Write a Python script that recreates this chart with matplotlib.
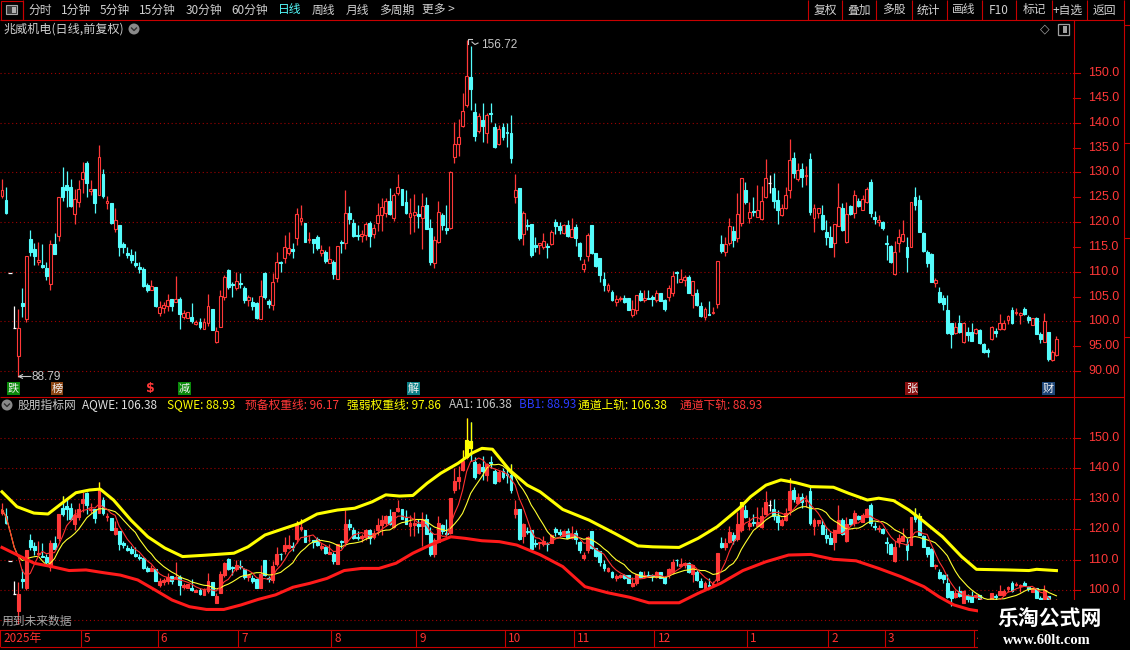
import numpy as np
import pandas as pd
import matplotlib
matplotlib.use("Agg")
import matplotlib.pyplot as plt
from matplotlib.patches import Rectangle, Circle

plt.rcParams['font.family'] = ['Noto Sans CJK SC', 'DejaVu Sans']

# ---------------- data ----------------
opens = [125.2,124.4,109.7,98.6,93.1,103.7,100.5,116.6,114.6,111.9,
 111.3,110.8,107.6,115.6,117.2,127.0,127.5,127.0,121.7,124.1,
 128.6,131.9,126.3,126.6,125.4,129.7,123.9,123.8,118.5,119.3,
 115.6,113.8,113.4,111.7,110.9,110.6,107.4,106.3,107.0,101.7,
 102.7,103.1,104.6,103.8,104.4,100.9,100.6,100.8,99.5,99.9,
 98.4,99.7,102.5,95.8,98.9,105.0,110.3,107.6,106.8,107.8,
 106.8,104.2,103.9,103.6,100.5,109.8,104.0,103.3,108.7,112.0,
 112.8,113.7,114.6,116.7,120.2,119.9,116.3,116.6,116.9,113.8,
 114.0,111.7,111.9,108.5,116.0,115.7,121.8,119.9,117.4,117.1,
 117.4,119.9,117.5,119.9,121.4,121.9,124.2,120.8,125.9,126.6,
 124.1,121.0,121.4,121.6,120.9,123.4,118.7,111.8,115.9,121.4,
 118.7,118.7,133.0,135.8,139.4,143.6,149.1,142.2,138.4,140.5,
 137.9,142.0,139.1,135.7,139.1,138.2,137.9,125.0,126.8,117.6,
 119.4,119.6,115.4,115.4,115.0,115.2,115.6,120.0,119.2,117.7,
 119.4,117.0,118.9,115.8,110.6,113.2,119.4,113.7,112.7,108.6,
 106.4,105.9,103.8,104.4,104.8,104.8,101.2,102.3,105.8,104.2,
 104.8,104.9,104.2,105.8,104.3,105.0,105.8,110.0,108.0,108.3,
 109.0,105.4,105.8,103.0,100.8,101.5,101.6,103.4,115.6,114.0,
 115.7,118.1,116.7,119.9,126.4,120.9,122.3,121.1,120.7,125.0,
 127.8,126.8,124.4,121.4,122.9,126.4,132.8,128.6,130.6,129.3,
 132.6,120.9,121.9,121.4,118.0,117.0,115.8,119.2,122.9,116.0,
 123.2,121.9,124.3,122.5,124.1,128.1,121.1,120.1,120.0,115.7,
 115.2,109.5,115.8,116.2,115.0,114.9,125.1,124.4,117.8,114.0,
 113.5,107.8,106.0,104.8,102.2,99.7,97.7,99.7,95.8,97.9,
 97.9,97.6,98.3,95.4,94.2,96.4,98.1,98.4,98.4,100.3,
 102.3,101.6,101.3,102.4,100.9,99.3,100.6,97.5,95.9,97.9,
 92.3,93.2]
highs = [128.6,127.0,109.7,103.1,102.5,106.8,113.2,118.4,115.7,116.0,
 115.6,111.9,116.4,117.7,125.0,131.0,130.2,128.6,126.7,128.5,
 132.1,132.3,128.5,126.6,135.5,130.6,125.2,123.8,122.8,119.3,
 116.0,114.9,114.6,114.2,111.9,111.0,107.8,108.3,107.0,104.0,
 103.9,105.5,104.6,109.1,105.0,102.3,101.9,103.6,100.2,100.6,
 100.6,105.5,102.5,98.9,106.3,109.3,110.5,108.0,110.0,109.8,
 107.1,105.3,105.0,103.8,108.3,110.0,104.6,109.7,114.0,112.2,
 117.4,118.0,115.7,122.8,123.4,119.9,118.0,116.6,117.4,115.4,
 114.4,115.2,112.4,115.2,116.4,126.4,123.2,120.7,119.4,118.4,
 120.1,120.2,119.7,123.8,124.8,124.8,126.8,125.8,129.7,126.6,
 126.4,124.8,125.7,123.4,125.8,125.1,120.7,117.2,124.3,121.8,
 123.4,130.3,140.2,140.7,145.9,156.7,155.4,143.9,141.9,144.0,
 141.9,144.0,139.9,139.5,140.0,139.9,141.6,129.7,126.8,122.2,
 120.7,119.6,116.9,115.7,117.7,115.7,118.3,120.7,120.1,119.7,
 120.4,120.9,119.7,116.0,112.5,117.7,119.4,113.7,112.7,109.9,
 107.7,106.4,105.3,105.2,105.3,104.8,104.2,105.4,106.4,106.4,
 106.3,105.3,106.3,105.8,104.6,107.3,110.2,110.2,110.5,109.3,
 109.3,108.1,106.6,103.8,102.9,104.0,102.8,112.1,117.4,117.0,
 120.9,119.1,125.8,128.8,128.1,124.1,125.0,127.4,127.2,132.6,
 129.5,129.9,126.4,123.6,127.1,136.8,134.0,131.8,131.8,131.3,
 133.8,123.6,122.9,123.4,120.5,119.1,119.6,127.8,123.8,124.1,
 123.4,126.4,124.8,125.4,127.1,128.6,122.3,121.4,120.3,117.4,
 115.4,116.2,118.5,120.5,117.0,124.1,127.0,125.4,118.0,114.3,
 113.7,108.7,107.0,105.3,105.3,99.7,99.9,101.3,99.9,98.8,
 99.6,98.6,98.4,95.6,94.6,99.1,98.6,101.5,100.3,101.3,
 102.8,102.6,101.9,102.9,101.3,100.6,100.8,97.9,101.7,97.9,
 94.2,97.0]
lows = [124.8,121.6,109.7,98.6,88.8,100.8,99.9,113.2,111.4,111.4,
 110.8,108.3,106.4,113.6,116.2,124.3,123.1,123.0,119.7,123.0,
 125.8,125.1,125.4,121.9,125.4,124.8,122.7,119.6,118.0,113.2,
 113.8,112.7,111.8,110.9,109.8,106.9,106.0,106.3,102.8,101.1,
 101.7,102.1,102.1,103.8,98.5,100.4,100.6,99.6,99.3,98.4,
 98.4,99.1,98.3,95.6,98.9,104.3,106.6,105.0,106.4,106.8,
 103.6,103.1,102.3,100.5,100.5,104.6,102.6,102.3,108.0,110.0,
 111.7,113.4,112.7,115.4,119.4,115.9,115.7,113.8,114.4,113.2,
 111.8,111.7,108.5,108.5,113.8,114.6,119.6,116.9,116.4,115.9,
 116.4,115.0,116.7,118.1,118.1,121.1,121.4,120.3,125.5,123.4,
 121.6,117.6,117.9,118.7,114.5,118.5,111.3,110.7,115.7,118.4,
 117.6,118.5,131.9,133.2,139.2,143.1,142.6,136.4,138.0,136.2,
 136.0,140.2,134.8,135.5,136.6,135.2,131.9,123.8,116.4,115.4,
 118.4,113.0,114.0,113.5,114.5,112.7,115.4,117.6,117.6,117.6,
 117.0,116.9,115.2,112.3,109.9,112.2,113.6,110.9,108.0,106.2,
 106.0,104.0,103.0,104.0,103.6,102.3,100.9,101.5,104.0,103.8,
 104.6,103.0,103.9,104.0,102.1,104.0,105.1,107.8,108.0,107.1,
 105.7,102.6,103.1,100.9,100.3,101.2,101.5,102.6,113.7,113.2,
 115.4,115.0,116.0,119.2,123.6,119.9,121.2,121.0,120.5,124.8,
 125.9,122.9,119.6,121.2,122.7,124.8,128.8,128.3,127.1,127.4,
 121.4,118.0,120.9,118.4,115.4,115.0,113.0,119.1,118.1,115.7,
 121.4,120.9,123.0,122.4,123.9,121.1,119.6,119.1,118.3,112.3,
 111.8,109.3,114.0,116.0,110.0,114.9,122.4,118.0,114.0,110.9,
 108.0,107.0,103.6,102.3,97.4,94.6,97.4,97.7,95.6,96.1,
 96.1,97.4,95.4,93.7,92.9,96.2,96.8,98.3,98.3,99.5,
 99.4,101.3,99.5,101.3,99.6,99.3,97.5,95.6,95.9,92.1,
 92.1,93.0]
closes = [126.4,121.9,109.7,98.6,98.6,103.0,113.2,114.0,113.2,112.3,
 110.9,109.2,115.5,113.6,125.0,125.1,126.5,123.2,124.6,126.6,
 130.0,127.8,126.6,123.8,133.0,125.2,124.3,119.9,120.5,115.0,
 114.9,113.3,112.3,111.3,110.6,107.2,106.3,107.2,103.1,102.8,
 103.3,104.2,103.1,104.4,101.5,101.7,101.9,100.1,99.9,98.8,
 99.9,103.1,98.3,98.1,105.1,109.0,107.0,107.3,108.1,107.5,
 104.3,105.0,103.0,100.7,105.1,105.0,103.5,107.9,111.9,111.8,
 114.9,114.7,114.2,121.6,120.8,115.9,116.5,115.7,114.7,114.4,
 112.2,112.5,109.5,115.2,115.7,121.8,120.7,117.2,117.1,117.6,
 119.7,117.1,118.7,121.4,123.1,124.2,121.6,125.5,127.0,123.4,
 121.8,121.9,122.1,121.2,123.2,118.5,112.0,116.4,122.1,119.4,
 118.4,130.1,135.8,137.1,142.4,149.4,146.7,137.3,141.3,139.3,
 141.5,141.8,135.2,138.7,137.2,137.9,132.8,126.5,116.7,121.8,
 119.1,113.4,115.0,115.7,116.2,115.0,118.0,119.1,118.3,119.4,
 117.2,118.5,116.7,113.1,111.5,117.4,113.7,111.1,109.3,107.3,
 107.3,104.3,104.6,104.8,103.9,102.3,102.4,105.4,104.3,104.8,
 104.6,104.6,105.8,104.0,102.4,106.8,109.1,109.8,108.5,109.0,
 105.8,108.1,103.3,101.1,102.4,101.2,101.9,112.1,114.2,115.6,
 119.1,116.4,121.7,128.8,124.1,122.0,122.1,122.5,124.3,128.8,
 127.8,124.3,122.4,122.9,125.4,132.5,129.8,130.5,129.1,129.5,
 122.1,122.9,122.9,118.5,117.0,115.0,119.6,123.1,118.3,121.6,
 121.7,125.4,123.2,124.6,126.6,121.9,120.7,120.5,118.7,115.5,
 112.0,114.0,117.0,117.6,113.0,124.1,123.4,118.0,114.2,111.8,
 108.0,108.3,103.8,103.5,97.6,97.4,98.9,97.9,99.6,97.2,
 96.1,98.4,95.7,93.9,93.9,98.9,97.6,99.6,99.7,101.1,
 99.7,101.9,101.7,101.5,100.3,100.6,97.5,96.4,100.1,92.5,
 93.9,96.4]

# channel lines of the indicator (read at points along the line, x = bar index)
upper_idx = [0,3.7,7.9,11.4,14.9,18.3,21.7,24.3,27.6,31.9,36.1,40.3,44.7,49.8,57.4,
             60.9,65.1,69.3,73.8,78,83,87.3,91.6,95,98.4,101.7,105.2,108.6,112.9,116.3,
             118.8,121.4,125.6,130,133.2,138.8,145.3,151.7,157.4,161.1,167.6,172.3,177,
             182.5,185.3,189.1,192.8,196.5,200.2,205.8,209.6,214.2,217,220.7,224.5,228.2,
             232.8,237.5,241.2,248.7,254.2,256.1,261]
upper_val = [132.3,127.4,125.3,125.0,128.6,132.0,132.9,133.2,129.6,123.0,117.5,113.8,111.0,
             111.4,112.1,114.2,118.1,120.0,122.0,125.0,126.3,126.9,129.0,131.3,130.9,131.1,
             135.1,138.4,141.7,145.0,146.6,146.3,139.5,134.5,132.3,126.5,123.0,118.6,114.5,
             114.2,114.0,117.0,120.8,126.9,130.7,134.5,136.2,135.3,134.0,133.8,131.8,129.6,
             130.2,129.4,126.3,122.5,117.5,111.0,106.8,106.6,106.4,106.8,106.38]
lower_idx = [0,4.6,8,12.3,16.6,20.8,25.1,29.3,33.6,37.9,42.1,46.4,50.6,54.9,59.2,63.4,67.7,
             72,76.2,80.4,84.7,89,93.3,97.5,101.7,106,111.1,114.6,118.8,123.1,127.4,133.2,
             138.8,144.3,149.9,155.4,160.1,167.6,172.3,177.9,183.4,189.1,194.7,200.2,205.8,
             211.4,217,222.5,228.2,231.9,235.6,239.4,261]
lower_val = [114.0,111.0,108.8,107.7,106.4,106.6,105.7,104.9,103.3,100.0,96.7,94.5,93.6,93.6,
             95.1,96.9,98.4,100.9,102.2,103.8,106.4,107.1,107.1,108.8,112.1,114.8,117.5,117.0,
             116.2,115.9,114.8,111.6,107.7,101.1,99.1,97.6,95.8,95.8,98.9,102.2,106.4,109.3,
             111.5,111.7,110.1,109.6,107.1,104.4,101.1,97.8,95.1,93.6,88.93]

month_idx = [0, 20, 39, 59, 82, 103, 125, 142, 162, 185, 205, 219, 241]
month_lab = ['2025年', '5', '6', '7', '8', '9', '10', '11', '12', '1', '2', '3', '4']

main_ticks = [150, 145, 140, 135, 130, 125, 120, 115, 110, 105, 100, 95, 90]
sub_ticks = [150, 140, 130, 120, 110, 100]
grid_levels = [150, 140, 130, 120, 110, 100, 90]

toolbar_left = [(28.6, '分时'), (61.4, '1分钟'), (100, '5分钟'), (139, '15分钟'), (186, '30分钟'),
                (231, '60分钟'), (278, '日线'), (312, '周线'), (346, '月线'), (379, '多周期'), (422.5, '更多 >')]
toolbar_right = [(825, '复权'), (859, '叠加'), (894, '多股'), (928, '统计'), (964, '画线'),
                 (999, 'F10'), (1034, '标记'), (1068, '+自选'), (1104, '返回')]
toolbar_seps = [808, 842, 876, 912, 946.5, 982, 1016, 1051.6, 1086.5]

RED = '#FF3838'; CYAN = '#54FCFC'; YEL = '#FFFF00'; LINE = '#C80000'; GRID = '#A00000'
GRAY = '#C8C8C8'

legend_segs = [(17.4, '股朋指标网', GRAY), (82, 'AQWE: 106.38', '#E0E0E0'), (166.7, 'SQWE: 88.93', YEL),
               (245, '预备权重线: 96.17', RED), (347, '强弱权重线: 97.86', YEL),
               (449, 'AA1: 106.38', '#C8C8C8'), (519, 'BB1: 88.93', '#2B3BFF'),
               (578, '通道上轨: 106.38', YEL), (680, '通道下轨: 88.93', RED)]

# ---------------- figure ----------------
W, H = 1130, 650
fig = plt.figure(figsize=(W / 100, H / 100), dpi=100, facecolor='black')

def rect(x0, y0, x1, y1):
    return [x0 / W, 1 - y1 / H, (x1 - x0) / W, (y1 - y0) / H]

O = np.array(opens); Hh = np.array(highs); L = np.array(lows); C = np.array(closes)
n = len(C)
x = np.arange(n)
XL = (-2 / 4.04, (1073 - 2) / 4.04)

ax1 = fig.add_axes(rect(0, 20, 1073, 397))
ax2 = fig.add_axes(rect(0, 397, 1073, 630))
for ax in (ax1, ax2):
    ax.set_facecolor('black')
    ax.set_xlim(*XL)
    for s in ax.spines.values():
        s.set_visible(False)
    ax.set_xticks([]); ax.set_yticks([])
    for v in grid_levels:
        ax.axhline(v, color=GRID, lw=0.8, ls=(0, (1, 2.5)), zorder=1)
ax1.set_ylim(84.77, 160.67)
ax2.set_ylim(86.84, 163.49)


def candles(ax, hollow):
    up = C > O; dn = C < O; fl = C == O
    cols = np.where(up, RED, np.where(dn, CYAN, '#FFFFFF'))
    ax.vlines(x, L, Hh, colors=cols, linewidth=0.9, zorder=2)
    ax.bar(x[up], (C - O)[up], bottom=O[up], width=0.72,
           facecolor='black' if hollow else RED, edgecolor=RED, linewidth=0.8, zorder=3)
    ax.bar(x[dn], (C - O)[dn], bottom=O[dn], width=0.72,
           facecolor=CYAN, edgecolor=CYAN, linewidth=0.8, zorder=3)
    ax.hlines(C[fl], x[fl] - 0.4, x[fl] + 0.4, colors='#FFFFFF', linewidth=0.9, zorder=3)


candles(ax1, True)
candles(ax2, False)

# yellow highlight of the part above the upper channel line
bu = np.interp(x, upper_idx, upper_val)
m = Hh > bu
ax2.vlines(x[m], np.maximum(L, bu)[m], Hh[m], colors=YEL, linewidth=0.9, zorder=3.5)
top = np.maximum(O, C); bot = np.minimum(O, C)
mb = top > bu
bb = np.maximum(bot, bu)
ax2.bar(x[mb], (top - bb)[mb], bottom=bb[mb], width=0.72, facecolor=YEL, edgecolor=YEL,
        linewidth=0.8, zorder=3.6)

s = pd.Series(C)
ma5 = s.rolling(5, min_periods=1).mean()
ma10 = s.rolling(10, min_periods=1).mean()
ax2.plot(x, ma10, color='#FFFF30', lw=0.8, zorder=4)
ax2.plot(x, ma5, color='#FF3030', lw=0.8, zorder=4)
ax2.plot(upper_idx, upper_val, color=YEL, lw=2.2, zorder=5, solid_joinstyle='round')
ax2.plot(lower_idx, lower_val, color='#FF1A1A', lw=2.2, zorder=5, solid_joinstyle='round')

# right axis labels
def yaxis_labels(ax, ticks):
    tr = ax.get_yaxis_transform()
    for v in ticks:
        lab = f"{v:.1f}" if v >= 100 else f"{v:.2f}"
        ax.text(1088 / 1073, v, lab, transform=tr, color=RED, fontsize=9,
                family='Liberation Sans', va='center', ha='left', clip_on=False)
        ax.plot([1.0, 1080 / 1073], [v, v], transform=tr, color=LINE, lw=0.8, clip_on=False)

yaxis_labels(ax1, main_ticks)
yaxis_labels(ax2, sub_ticks)

# date strip
trx = ax2.get_xaxis_transform()
for i, lab in zip(month_idx, month_lab):
    ax2.plot([i - 0.5, i - 0.5], [-0.0687, 0], transform=trx, color=LINE, lw=0.8, clip_on=False)
    ax2.text(i - 0.5 + 0.75, -0.037, lab, transform=trx, color='#FF3030', fontsize=8.5,
             va='center', ha='left', clip_on=False)

# ---------------- overlay (frame, texts) ----------------
ov = fig.add_axes([0, 0, 1, 1])
ov.set_xlim(0, W); ov.set_ylim(H, 0); ov.axis('off')
ov.set_zorder(10); ov.patch.set_visible(False)


def T(xp, yp, s_, c=GRAY, fs=8.5, ha='left', va='center', **kw):
    ov.text(xp, yp, s_, color=c, fontsize=fs, ha=ha, va=va, **kw)


def seg(x0, y0, x1, y1, c=LINE, lw=0.8, **kw):
    ov.plot([x0, x1], [y0, y1], color=c, lw=lw, solid_capstyle='butt', **kw)

seg(0, 19.5, 1123.5, 19.5)
seg(22.5, 0, 22.5, 19.5)
for sx in toolbar_seps:
    seg(sx, 0, sx, 19.5)
seg(1073.5, 19.5, 1073.5, 630)
seg(0, 397, 1123.5, 397)
seg(0, 630, 1123.5, 630)
seg(0, 646.5, 1123.5, 646.5)
seg(1123.5, 0, 1123.5, 650)
for yy in (25, 143, 238, 337):
    seg(1123.5, yy, 1130, yy)

# top-left icon
ov.add_patch(Rectangle((0.5, 0.5), 22, 19, fill=False, edgecolor=LINE, lw=0.8))
ov.add_patch(Rectangle((6, 5), 11, 9, facecolor='#3A3A3A', edgecolor='#A8A8A8', lw=0.8))
ov.add_patch(Rectangle((11.5, 6.5), 4, 6, facecolor='#B0B0B0', edgecolor='none'))

for xp, t in toolbar_left:
    T(xp, 10, t, c=CYAN if t == '日线' else '#D0D0D0', fs=8.5)
for xp, t in toolbar_right:
    T(xp, 10, t, c='#D0D0D0', fs=8.5, ha='center')

T(3, 29, '兆威机电(日线,前复权)', c='#D0D0D0', fs=8.7)
ov.add_patch(Circle((134, 29), 5.5, facecolor='#8A8A8A', edgecolor='none'))
ov.plot([131.5, 134, 136.5], [28, 30.5, 28], color='#303030', lw=1.0)
T(1045, 29, '◇', c='#A0A0A0', fs=9, ha='center', family='DejaVu Sans')
ov.add_patch(Rectangle((1057.5, 23.5), 11, 11, fill=False, edgecolor='#A0A0A0', lw=0.9))
ov.add_patch(Rectangle((1063, 25.5), 3.5, 7, facecolor='#A0A0A0', edgecolor='none'))

# extreme price marks
ov.plot([468, 468, 472], [44, 39, 39], color=GRAY, lw=0.8)
ov.plot([472, 475, 478], [42, 44.5, 43], color=GRAY, lw=0.8)
T(481, 45, '156.72', c=GRAY, fs=8.5, family='Liberation Sans')
ov.annotate('', xy=(17.5, 376.5), xytext=(31, 376.5),
            arrowprops=dict(arrowstyle='->', color=GRAY, lw=0.8, shrinkA=0, shrinkB=0,
                            mutation_scale=7))
T(32, 377, '88.79', c=GRAY, fs=8.5, family='Liberation Sans')

# event markers
def box(x0, x1, ch, fc, tc='#F0F0F0'):
    ov.add_patch(Rectangle((x0, 382), x1 - x0, 13, facecolor=fc, edgecolor='none'))
    T((x0 + x1) / 2, 388.5, ch, c=tc, fs=8, ha='center')

box(7, 20, '跌', '#0A8A0A')
box(51, 63, '榜', '#8B4513')
T(150, 388.5, '$', c=RED, fs=9, ha='center', weight='bold', family='DejaVu Sans')
box(178, 191, '减', '#0A8A0A')
box(407, 420, '解', '#0A7F86')
box(905, 918, '张', '#8B1010')
box(1042, 1055, '财', '#1E4678')

# indicator title line
ov.add_patch(Circle((7, 405), 5.5, facecolor='#8A8A8A', edgecolor='none'))
ov.plot([4.5, 7, 9.5], [404, 406.5, 404], color='#303030', lw=1.0)
for xp, t, c in legend_segs:
    T(xp, 405, t, c=c, fs=8.5)

T(2, 621, '用到未来数据', c='#A8A8A8', fs=8.5)

# watermark
ov.add_patch(Rectangle((978, 600), 152, 50, facecolor='black', edgecolor='none', zorder=20))
T(1050, 618, '乐淘公式网', c='white', fs=15, ha='center', weight='bold', zorder=21)
T(1047, 640, 'www.60lt.com', c='white', fs=10.5, ha='center', weight='bold',
  family='Liberation Serif', zorder=21)

fig.savefig('out.png', dpi=100, facecolor='black')
